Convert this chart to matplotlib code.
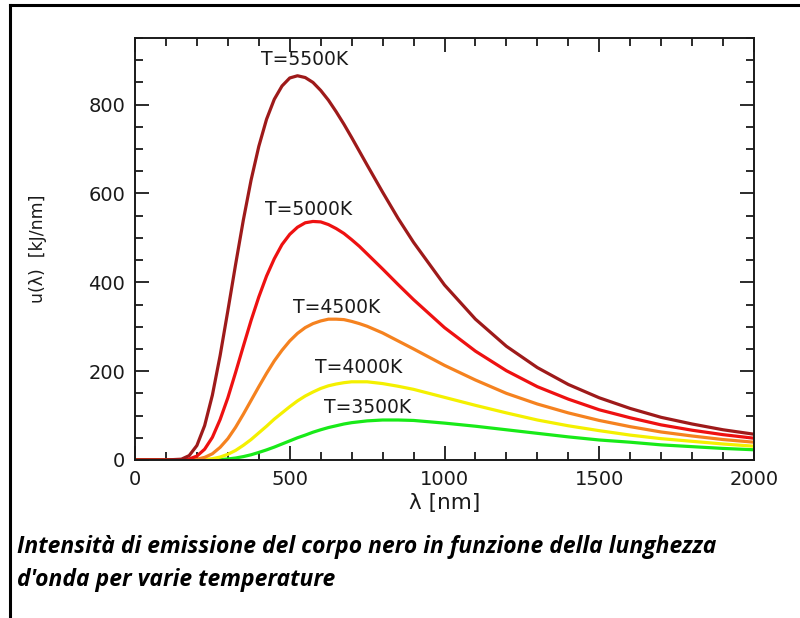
import matplotlib
matplotlib.use('Agg')
import matplotlib.pyplot as plt
from matplotlib.lines import Line2D
from matplotlib.ticker import MultipleLocator

# wavelength grid [nm] and spectral energy density
wavelength = [0, 100, 150, 175, 200, 225, 250, 275, 300, 325, 350, 375, 400, 425, 450, 475,
              500, 525, 550, 575, 600, 625, 650, 675, 700, 725, 750, 800, 850, 900,
              1000, 1100, 1200, 1300, 1400, 1500, 1600, 1700, 1800, 1900, 2000]
u5500 = [0, 0, 1.8, 9.8, 32.6, 77.4, 146, 235, 336, 440, 540, 630, 706, 767, 812, 842,
         860, 865, 861, 850, 832, 810, 784, 756, 726, 695, 664, 603, 544, 490,
         394, 317, 256, 208, 170, 140, 116, 96, 81, 68, 58]
u5000 = [0, 0, 0.3, 2.2, 8.8, 24.2, 51, 91, 140, 197, 256, 314, 367, 414, 453, 485,
         508, 524, 534, 537, 536, 530, 521, 510, 496, 481, 464, 430, 395, 361,
         298, 245, 201, 165, 137, 113, 95, 79, 67, 57, 49]
u4500 = [0, 0, 0, 0.35, 1.8, 5.8, 14, 28.4, 48, 73.6, 103, 134, 165, 195, 223, 247,
         268, 285, 298, 307, 313, 317, 317, 316, 312, 307, 301, 286, 268, 250,
         213, 180, 150, 126, 106, 89, 75, 63, 54, 46, 40]
u4000 = [0, 0, 0, 0, 0.2, 1.0, 2.9, 6.6, 12.8, 21.5, 33, 46, 61, 76, 92, 106,
         120, 133, 144, 153, 161, 167, 171, 174, 176, 176, 176, 172, 166, 159,
         141, 123, 106, 90, 77, 66, 56, 48, 42, 36, 31]
u3500 = [0, 0, 0, 0, 0, 0.1, 0.4, 1.0, 2.3, 4.4, 7.6, 11.7, 17, 22.7, 29, 36,
         43, 50, 56, 62.5, 68, 73, 77, 81, 84, 86, 88, 90, 90, 89,
         83, 76, 68, 60, 52, 45, 40, 34, 30, 26, 23]

labels = ['T=3500K', 'T=4000K', 'T=4500K', 'T=5000K', 'T=5500K']
series = [u3500, u4000, u4500, u5000, u5500]
colors = ['#18ea18', '#f4f000', '#f5821f', '#ee1111', '#9e1a1a']
label_xy = [(750, 118), (722, 209), (652, 343), (560, 564), (548, 902)]

caption = ("Intensità di emissione del corpo nero in funzione della lunghezza\n"
           "d'onda per varie temperature")

fig = plt.figure(figsize=(8, 6.18), dpi=100)
ax = fig.add_axes([0.16875, 0.2557, 0.77375, 0.6828])

for vals, c in zip(series, colors):
    ax.plot(wavelength, vals, color=c, lw=2.3, solid_joinstyle='round', solid_capstyle='round')

for lab, (x, y) in zip(labels, label_xy):
    ax.text(x, y, lab, ha='center', va='center', fontsize=13.5, color='#1a1a1a')

ax.set_xlim(0, 2000)
ax.set_ylim(0, 950)
ax.xaxis.set_major_locator(MultipleLocator(500))
ax.xaxis.set_minor_locator(MultipleLocator(100))
ax.yaxis.set_major_locator(MultipleLocator(200))
ax.yaxis.set_minor_locator(MultipleLocator(50))
ax.tick_params(which='both', direction='in', top=True, right=True, colors='#1a1a1a',
               labelsize=14, width=1.3)
ax.tick_params(which='major', length=10, pad=7)
ax.tick_params(which='minor', length=5.5)
for s in ax.spines.values():
    s.set_linewidth(1.4)
    s.set_color('#1a1a1a')

ax.set_xlabel('λ [nm]', fontsize=15.5, color='#1a1a1a', labelpad=3)
ax.set_ylabel('u(λ)  [kJ/nm]', fontsize=12.5, color='#1a1a1a', labelpad=30)

# frame lines of the page (top and left only)
fig.add_artist(Line2D([10 / 800, 1], [1 - 5 / 618, 1 - 5 / 618], color='black', lw=2.2))
fig.add_artist(Line2D([10 / 800, 10 / 800], [0, 1 - 5 / 618], color='black', lw=2.2))

fig.text(17 / 800, 1 - 535 / 618, caption, ha='left', va='top', fontsize=16.5,
         family='Open Sans', weight='bold', style='italic', linespacing=1.5, color='black')

fig.savefig('out.png', dpi=100)
